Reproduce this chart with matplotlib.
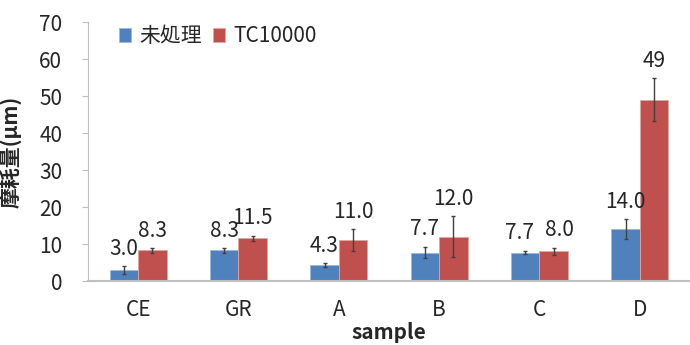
import matplotlib.pyplot as plt
import numpy as np

plt.rcParams['font.family'] = ['Noto Sans CJK JP', 'DejaVu Sans']

samples = ['CE', 'GR', 'A', 'B', 'C', 'D']
untreated = [3.0, 8.3, 4.3, 7.7, 7.7, 14.0]
untreated_err = [1.0, 0.6, 0.6, 1.6, 0.5, 2.7]
tc10000 = [8.3, 11.5, 11.0, 12.0, 8.0, 49.0]
tc10000_err = [0.6, 0.8, 3.0, 5.6, 1.0, 5.8]
untreated_lbl = ['3.0', '8.3', '4.3', '7.7', '7.7', '14.0']
tc10000_lbl = ['8.3', '11.5', '11.0', '12.0', '8.0', '49']

BLUE = '#4F81BD'
RED = '#C0504D'
GREY = '#BFBFBF'
TXT = '#262626'
FS = 15

fig = plt.figure(figsize=(6.9, 3.45), dpi=100)
ax = fig.add_axes([0.1275, 0.1855, 0.8725, 0.7505])

x = np.arange(len(samples))
w = 0.285
ekw = {'elinewidth': 1.0, 'capthick': 1.0}
ax.bar(x - w / 2, untreated, w, color=BLUE, edgecolor='#9DB8DD', linewidth=0.6,
       yerr=untreated_err, ecolor='#404040', capsize=1.5, error_kw=ekw, label='未処理')
ax.bar(x + w / 2, tc10000, w, color=RED, edgecolor='#E0A6A4', linewidth=0.6,
       yerr=tc10000_err, ecolor='#404040', capsize=1.5, error_kw=ekw, label='TC10000')

# value labels above the error bars, pushed apart sideways when they sit level
for i in range(len(samples)):
    yb = untreated[i] + untreated_err[i]
    yr = tc10000[i] + tc10000_err[i]
    dx = 4 if abs(yb - yr) < 2 else 0
    ax.annotate(untreated_lbl[i], (x[i] - w / 2, yb),
                xytext=(-dx, 12.5), textcoords='offset points', ha='center', va='center',
                fontsize=FS, color=TXT)
    ax.annotate(tc10000_lbl[i], (x[i] + w / 2, yr),
                xytext=(dx, 12.5), textcoords='offset points', ha='center', va='center',
                fontsize=FS, color=TXT)

ax.set_xlim(-0.5, 5.5)
ax.set_ylim(0, 70)
ax.set_yticks(range(0, 71, 10))
ax.set_xticks(x)
ax.set_xticklabels(samples)

for s in ['top', 'right']:
    ax.spines[s].set_visible(False)
ax.spines['left'].set_color(GREY)
ax.spines['bottom'].set_color(GREY)
ax.spines['bottom'].set_linewidth(1.5)
ax.tick_params(axis='y', colors=GREY, labelcolor=TXT, labelsize=FS, length=4.5,
               direction='out', pad=14)
ax.tick_params(axis='x', length=0, labelcolor=TXT, labelsize=FS, pad=13)

ax.set_xlabel('sample', fontsize=FS, fontweight='bold', color=TXT, labelpad=0.5)
ax.set_ylabel('摩耗量(μm)', fontsize=FS, fontweight='bold', color=TXT)
ax.yaxis.set_label_coords(-0.108, 0.5)

ax.legend(loc='upper left', bbox_to_anchor=(0.02, 1.06), ncol=2, frameon=False,
          fontsize=FS, handlelength=0.6, handleheight=0.6, handletextpad=0.4,
          columnspacing=0.5, labelcolor=TXT)

fig.savefig('out.png', dpi=100)
